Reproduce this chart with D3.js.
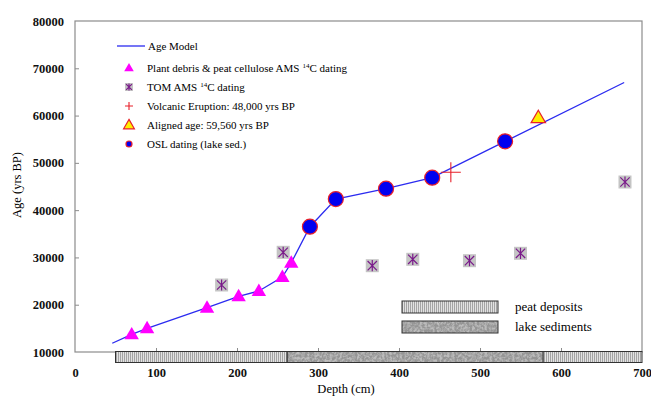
<!DOCTYPE html>
<html>
<head>
<meta charset="utf-8">
<script src="https://cdn.jsdelivr.net/npm/d3@7"></script>
<style>
  body { margin: 0; background: #fff; }
  svg text { font-family: 'Liberation Serif', 'Times New Roman', Times, 'DejaVu Serif', serif; }
</style>
</head>
<body>
<div class="canvas"></div>
<script>
// data
const modelDepth = [46, 70, 89, 163, 202, 227, 256, 267, 290, 322, 384, 441, 531, 678]
const modelAge = [11850, 13740, 15010, 19370, 21780, 22900, 25860, 28880, 36500, 42350, 44530, 46860, 54550, 67000]

const plantDepth = [70, 89, 163, 202, 227, 256, 267]
const plantAge = [13740, 15010, 19370, 21780, 22900, 25860, 28880]

const tomDepth = [181, 257, 367, 417, 487, 550, 679]
const tomAge = [24170, 31080, 28250, 29600, 29310, 30870, 45950]

const volcanicDepth = [464]
const volcanicAge = [48000]

const alignedDepth = [572]
const alignedAge = [59560]

const oslDepth = [290, 322, 384, 441, 531]
const oslAge = [36500, 42350, 44530, 46860, 54550]

// stratigraphy column
const units = ['peat', 'lake', 'peat']
const unitTop = [50, 262, 578]
const unitBottom = [262, 578, 700]

const xTicks = [0, 100, 200, 300, 400, 500, 600, 700]
const yTicks = [10000, 20000, 30000, 40000, 50000, 60000, 70000, 80000]

const legendLabels = [
  'Age Model',
  'Plant debris & peat cellulose AMS',
  'TOM AMS',
  'Volcanic Eruption: 48,000 yrs BP',
  'Aligned age: 59,560 yrs BP',
  'OSL dating (lake sed.)',
]

const zip = (a, b) => a.map((v, i) => ({ depth: v, age: b[i] }))

// chart dimensions
const dimensions = { width: 651, height: 396, left: 75, right: 642, top: 21, bottom: 352 }

const svg = d3
  .select('.canvas')
  .append('svg')
  .attr('width', dimensions.width)
  .attr('height', dimensions.height)

const x = d3.scaleLinear().domain([0, 700]).range([dimensions.left, dimensions.right])
const y = d3.scaleLinear().domain([10000, 80000]).range([dimensions.bottom, dimensions.top])

// patterns
const defs = svg.append('defs')
const peat = defs
  .append('pattern')
  .attr('id', 'peat')
  .attr('patternUnits', 'userSpaceOnUse')
  .attr('width', 2)
  .attr('height', 4)
peat.append('rect').attr('width', 2).attr('height', 4).attr('fill', '#e2e2e2')
peat.append('rect').attr('width', 1).attr('height', 4).attr('fill', '#a4a4a4')

const noise = defs.append('filter').attr('id', 'mottle').attr('x', 0).attr('y', 0).attr('width', 1).attr('height', 1)
noise
  .append('feTurbulence')
  .attr('type', 'fractalNoise')
  .attr('baseFrequency', 0.4)
  .attr('numOctaves', 2)
  .attr('seed', 4)
noise
  .append('feColorMatrix')
  .attr('type', 'matrix')
  .attr('values', '0 0 0 0 0.3  0 0 0 0 0.3  0 0 0 0 0.3  -3 0 0 0 2.1')

const fillUnit = (g, kind, x0, y0, w, h) => {
  if (kind === 'peat') {
    g.append('rect').attr('x', x0).attr('y', y0).attr('width', w).attr('height', h).attr('fill', 'url(#peat)')
  } else {
    g.append('rect').attr('x', x0).attr('y', y0).attr('width', w).attr('height', h).attr('fill', '#bcbcbc')
    g.append('rect').attr('x', x0).attr('y', y0).attr('width', w).attr('height', h).attr('filter', 'url(#mottle)')
  }
  g.append('rect')
    .attr('x', x0)
    .attr('y', y0)
    .attr('width', w)
    .attr('height', h)
    .attr('fill', 'none')
    .attr('stroke', '#333')
    .attr('stroke-width', 1)
}

// plot frame
svg
  .append('rect')
  .attr('x', dimensions.left)
  .attr('y', dimensions.top)
  .attr('width', dimensions.right - dimensions.left)
  .attr('height', dimensions.bottom - dimensions.top)
  .attr('fill', 'none')
  .attr('stroke', '#8c8c8c')
  .attr('stroke-width', 1.2)

// axes (ticks point inward)
const xAxis = svg
  .append('g')
  .attr('transform', `translate(0, ${dimensions.bottom})`)
  .call(d3.axisBottom(x).tickValues(xTicks).tickSize(-4).tickPadding(16).tickFormat(d3.format('d')))
const yAxis = svg
  .append('g')
  .attr('transform', `translate(${dimensions.left}, 0)`)
  .call(d3.axisLeft(y).tickValues(yTicks).tickSize(-4).tickPadding(11).tickFormat(d3.format('d')))

;[xAxis, yAxis].forEach((g) => {
  g.attr('font-family', null)
  g.select('.domain').remove()
  g.selectAll('line').attr('stroke', '#8c8c8c')
  g.selectAll('text')
    .attr('font-size', 12.5)
    .attr('font-weight', 'bold')
    .attr('fill', '#111')
})
xAxis.selectAll('.tick').filter((d) => d === 0 || d === 700).select('line').remove()
yAxis.selectAll('.tick').filter((d) => d === 10000 || d === 80000).select('line').remove()

// axis titles
svg
  .append('text')
  .attr('x', 346)
  .attr('y', 393)
  .attr('text-anchor', 'middle')
  .attr('font-size', 12.5)
  .text('Depth (cm)')
svg
  .append('text')
  .attr('transform', 'translate(21, 185) rotate(-90)')
  .attr('text-anchor', 'middle')
  .attr('font-size', 12.5)
  .text('Age (yrs BP)')

// stratigraphy column under the axis
const column = svg.append('g')
units.forEach((u, i) => {
  fillUnit(column, u, x(unitTop[i]), dimensions.bottom - 0.5, x(unitBottom[i]) - x(unitTop[i]), 11)
})

// age model line
const line = d3
  .line()
  .x((d) => x(d.depth))
  .y((d) => y(d.age))
svg
  .append('path')
  .datum(zip(modelDepth, modelAge))
  .attr('fill', 'none')
  .attr('stroke', '#2b2bf0')
  .attr('stroke-width', 1.3)
  .attr('d', line)

// marker drawers
const triangle = (g, cx, cy, s, fill, stroke) =>
  g
    .append('path')
    .attr('d', `M${cx},${cy - s * 0.62}L${cx + s * 0.6},${cy + s * 0.42}L${cx - s * 0.6},${cy + s * 0.42}Z`)
    .attr('fill', fill)
    .attr('stroke', stroke || 'none')
    .attr('stroke-width', 1.2)

const tomMark = (g, cx, cy, s) => {
  g.append('rect')
    .attr('x', cx - s / 2)
    .attr('y', cy - s / 2)
    .attr('width', s)
    .attr('height', s)
    .attr('fill', '#c4c4c4')
  const a = s * 0.36
  g.append('path')
    .attr('d', `M${cx - a},${cy - a}L${cx + a},${cy + a}M${cx + a},${cy - a}L${cx - a},${cy + a}M${cx},${cy - a * 1.2}L${cx},${cy + a * 1.2}`)
    .attr('stroke', '#7a1a8a')
    .attr('stroke-width', 1.2)
}

const plusMark = (g, cx, cy, s) =>
  g
    .append('path')
    .attr('d', `M${cx - s},${cy}L${cx + s},${cy}M${cx},${cy - s}L${cx},${cy + s}`)
    .attr('stroke', '#e8202a')
    .attr('stroke-width', 1.1)

const oslMark = (g, cx, cy, r) =>
  g
    .append('circle')
    .attr('cx', cx)
    .attr('cy', cy)
    .attr('r', r)
    .attr('fill', '#0000f0')
    .attr('stroke', '#e8202a')
    .attr('stroke-width', 1.2)

// draw data points
const marks = svg.append('g')
zip(tomDepth, tomAge).forEach((d) => tomMark(marks, x(d.depth), y(d.age), 13))
zip(plantDepth, plantAge).forEach((d) => triangle(marks, x(d.depth), y(d.age), 12, '#ff00ff'))
zip(oslDepth, oslAge).forEach((d) => oslMark(marks, x(d.depth), y(d.age), 7.5))
zip(volcanicDepth, volcanicAge).forEach((d) => plusMark(marks, x(d.depth), y(d.age), 10))
zip(alignedDepth, alignedAge).forEach((d) => triangle(marks, x(d.depth), y(d.age), 12, '#ffee00', '#e8202a'))

// legend
const legend = svg.append('g').attr('font-size', 11)
const rowY = [46, 68, 87, 106, 125, 144]
const mx = 129
legend
  .append('line')
  .attr('x1', 117)
  .attr('x2', 145)
  .attr('y1', rowY[0])
  .attr('y2', rowY[0])
  .attr('stroke', '#2b2bf0')
  .attr('stroke-width', 1.3)
triangle(legend, mx, rowY[1], 8, '#ff00ff')
tomMark(legend, mx, rowY[2], 8)
plusMark(legend, mx, rowY[3], 4)
triangle(legend, mx, rowY[4], 9, '#ffee00', '#e8202a')
oslMark(legend, mx, rowY[5], 3)

legendLabels.forEach((t, i) => {
  const txt = legend
    .append('text')
    .attr('x', i === 0 ? 148 : 147)
    .attr('y', rowY[i] + 4)
    .text(t)
  if (i === 1 || i === 2) {
    txt.append('tspan').attr('dx', 3).attr('dy', -4).attr('font-size', 7).text('14')
    txt.append('tspan').attr('dy', 4).text('C dating')
  }
})

// stratigraphy key
const key = svg.append('g')
const keyLabels = ['peat deposits', 'lake sediments']
units.slice(0, 2).forEach((u, i) => {
  const ky = 301 + i * 20
  fillUnit(key, u, 402, ky, 96, 12)
  key
    .append('text')
    .attr('x', 515)
    .attr('y', ky + 10)
    .attr('font-size', 13)
    .text(keyLabels[i])
})
</script>
</body>
</html>
